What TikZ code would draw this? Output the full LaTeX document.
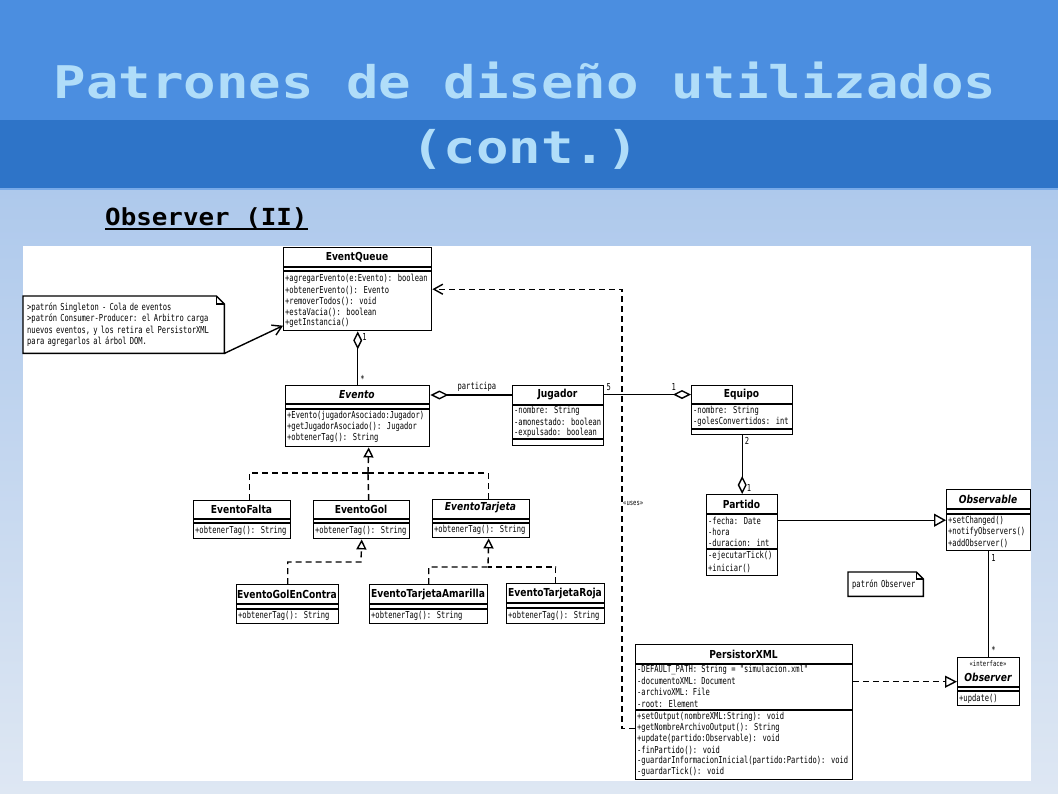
\documentclass[tikz,border=0pt]{standalone}
\usepackage{fontspec}
\usetikzlibrary{arrows.meta}

\newfontfamily\titlefont[FakeStretch=1.2]{DejaVu Sans Mono}
\newfontfamily\subfont[FakeStretch=1.1]{DejaVu Sans Mono}
\newfontfamily\memfont[FakeStretch=0.74]{DejaVu Sans Mono}
\newfontfamily\clsfont[FakeStretch=0.83]{DejaVu Sans}
\newcommand\memtext{\memfont\fontsize{9.6}{11.3}\selectfont}
\newcommand\clstext{\clsfont\fontsize{11}{13}\selectfont\bfseries}

\definecolor{headtop}{RGB}{75,142,224}
\definecolor{headlow}{RGB}{46,116,200}
\definecolor{headline}{RGB}{120,170,232}
\definecolor{pagetop}{RGB}{174,201,236}
\definecolor{pagebot}{RGB}{222,231,243}
\definecolor{titletext}{RGB}{176,221,249}

\tikzset{
	box/.style={draw, line width=1.4pt, fill=white, anchor=north west, inner sep=0pt},
	cname/.style={font=\clstext, inner sep=0pt},
	cabstract/.style={font=\clstext\itshape, inner sep=0pt},
	member/.style={font=\memtext, anchor=west, inner sep=0pt},
	mult/.style={font=\memtext, inner sep=0pt},
	note/.style={font=\memtext, anchor=north west, align=left, inner xsep=4pt, inner ysep=0pt},
	notebox/.style={line width=1.4pt},
	sep/.style={line width=1.4pt},
	link/.style={line width=1.4pt},
	aggr/.style={link, {Diamond[open,length=18pt,width=9pt]}-},
	dep/.style={link, dash pattern=on 6pt off 4pt},
	realiz/.style={dep, -{Triangle[open,length=10pt,width=10pt]}},
}

\begin{document}
\begin{tikzpicture}[x=1pt,y=-1pt]
	\useasboundingbox (0,0) rectangle (1058,793);

	% slide background
	\shade[top color=pagetop, bottom color=pagebot] (0,188) rectangle (1058,793);
	\fill[headtop] (0,0) rectangle (1058,120);
	\fill[headlow] (0,120) rectangle (1058,188);
	\draw[headline, line width=1.5pt] (0,189) -- (1058,189);
	\fill[white] (23,246) rectangle (1031,781);

	% title
	\node[anchor=base, text=titletext, font=\titlefont\fontsize{45}{50}\selectfont\bfseries] (title1) at (525,98) {Patrones de diseño utilizados};
	\node[anchor=base, text=titletext, font=\titlefont\fontsize{45}{50}\selectfont\bfseries] (title2) at (525,163) {(cont.)};

	\node[anchor=base west, inner sep=0pt, font=\subfont\fontsize{23.5}{26}\selectfont\bfseries] (subtitle) at (105,225) {Observer (II)};
	\draw[line width=1.8pt] ([yshift=-4pt]subtitle.base west) -- ([yshift=-4pt]subtitle.base east);

	% EventQueue
	\node[box, minimum width=148pt, minimum height=83pt] (queue) at (283,247) {};
	\node[cname] (queue-name) at (357,257) {EventQueue};
	\draw[sep] (283,267) -- (431,267);
	\draw[sep] (283,271) -- (431,271);
	\node[member] at (285,279) {+agregarEvento(e:Evento): boolean};
	\node[member] at (285,290) {+obtenerEvento(): Evento};
	\node[member] at (285,301) {+removerTodos(): void};
	\node[member] at (285,312) {+estaVacia(): boolean};
	\node[member] at (285,323) {+getInstancia()};

	% note on EventQueue
	\node[note, minimum width=201pt, minimum height=57pt, text width=193pt] (singleton) at (23,296)
		{>patrón Singleton - Cola de eventos\\
		>patrón Consumer-Producer: el Arbitro carga\\
		nuevos eventos, y los retira el PersistorXML\\
		para agregarlos al árbol DOM.};
	\draw[notebox] (singleton.north west) -- ([xshift=-8pt]singleton.north east) -- ([yshift=-8pt]singleton.north east)
		-- (singleton.south east) -- (singleton.south west) -- cycle;
	\draw[notebox] ([xshift=-8pt]singleton.north east) |- ([yshift=-8pt]singleton.north east);

	% Evento
	\node[box, minimum width=144pt, minimum height=61pt] (evento) at (285,385) {};
	\node[cabstract] (evento-name) at (357,395) {Evento};
	\draw[sep] (285,404) -- (429,404);
	\draw[sep] (285,409) -- (429,409);
	\node[member] at (287,416) {+Evento(jugadorAsociado:Jugador)};
	\node[member] at (287,427) {+getJugadorAsociado(): Jugador};
	\node[member] at (287,438) {+obtenerTag(): String};

	% Jugador
	\node[box, minimum width=91pt, minimum height=60pt] (jugador) at (512,385) {};
	\node[cname] (jugador-name) at (557.5,395) {Jugador};
	\draw[sep] (512,405) -- (603,405);
	\node[member] at (514,411) {-nombre: String};
	\node[member] at (514,422) {-amonestado: boolean};
	\node[member] at (514,433) {-expulsado: boolean};
	\draw[sep] (512,439) -- (603,439);

	% Equipo
	\node[box, minimum width=101pt, minimum height=49pt] (equipo) at (691,385) {};
	\node[cname] (equipo-name) at (741.5,394.5) {Equipo};
	\draw[sep] (691,404) -- (792,404);
	\node[member] at (693,411) {-nombre: String};
	\node[member] at (693,422) {-golesConvertidos: int};
	\draw[sep] (691,429) -- (792,429);

	% Partido
	\node[box, minimum width=71pt, minimum height=81pt] (partido) at (706,494) {};
	\node[cname] (partido-name) at (741.5,504) {Partido};
	\draw[sep] (706,514) -- (777,514);
	\node[member] at (708,521) {-fecha: Date};
	\node[member] at (708,532) {-hora};
	\node[member] at (708,543) {-duracion: int};
	\draw[sep] (706,549) -- (777,549);
	\node[member] at (708,556) {-ejecutarTick()};
	\node[member] at (708,568) {+iniciar()};

	% Observable
	\node[box, minimum width=84pt, minimum height=61pt] (observable) at (946,489) {};
	\node[cabstract] (observable-name) at (988,499) {Observable};
	\draw[sep] (946,509) -- (1030,509);
	\draw[sep] (946,514) -- (1030,514);
	\node[member] at (948,521) {+setChanged()};
	\node[member] at (948,532) {+notifyObservers()};
	\node[member] at (948,543) {+addObserver()};

	% Observer
	\node[box, minimum width=62pt, minimum height=48pt] (observer) at (957,657) {};
	\node[mult, font=\memfont\fontsize{7.5}{8}\selectfont] (observer-st) at (988,664) {«interface»};
	\node[cabstract] (observer-name) at (988,677) {Observer};
	\draw[sep] (957,687) -- (1019,687);
	\draw[sep] (957,691) -- (1019,691);
	\node[member] at (959,699) {+update()};

	% note on Observer
	\node[note, minimum width=75pt, minimum height=24pt, text width=67pt] (obsnote) at (848,572) {patrón Observer};
	\draw[notebox] (obsnote.north west) -- ([xshift=-7pt]obsnote.north east) -- ([yshift=-7pt]obsnote.north east)
		-- (obsnote.south east) -- (obsnote.south west) -- cycle;
	\draw[notebox] ([xshift=-7pt]obsnote.north east) |- ([yshift=-7pt]obsnote.north east);

	% PersistorXML
	\node[box, minimum width=217pt, minimum height=135pt] (persistor) at (635,644) {};
	\node[cname] (persistor-name) at (743.5,654) {PersistorXML};
	\draw[sep] (635,664) -- (852,664);
	\node[member] at (637,670) {-DEFAULT\_PATH: String = "simulacion.xml"};
	\node[member] at (637,681) {-documentoXML: Document};
	\node[member] at (637,692) {-archivoXML: File};
	\node[member] at (637,704) {-root: Element};
	\draw[sep] (635,710) -- (852,710);
	\node[member] at (637,717) {+setOutput(nombreXML:String): void};
	\node[member] at (637,728) {+getNombreArchivoOutput(): String};
	\node[member] at (637,739) {+update(partido:Observable): void};
	\node[member] at (637,750) {-finPartido(): void};
	\node[member] at (637,761) {-guardarInformacionInicial(partido:Partido): void};
	\node[member] at (637,772) {-guardarTick(): void};

	% subclasses of Evento
	\node[box, minimum width=97pt, minimum height=38pt] (falta) at (193,500) {};
	\node[cname] (falta-name) at (241.5,509) {EventoFalta};
	\draw[sep] (193,519) -- (290,519);
	\draw[sep] (193,523) -- (290,523);
	\node[member] at (195,531) {+obtenerTag(): String};

	\node[box, minimum width=96pt, minimum height=38pt] (gol) at (313,500) {};
	\node[cname] (gol-name) at (361,509) {EventoGol};
	\draw[sep] (313,519) -- (409,519);
	\draw[sep] (313,523) -- (409,523);
	\node[member] at (315,531) {+obtenerTag(): String};

	\node[box, minimum width=97pt, minimum height=38pt] (tarjeta) at (432,499) {};
	\node[cabstract] (tarjeta-name) at (480.5,508) {EventoTarjeta};
	\draw[sep] (432,519) -- (529,519);
	\draw[sep] (432,523) -- (529,523);
	\node[member] at (434,530) {+obtenerTag(): String};

	\node[box, minimum width=102pt, minimum height=39pt] (golencontra) at (236,584) {};
	\node[cname] (golencontra-name) at (287,594) {EventoGolEnContra};
	\draw[sep] (236,604) -- (338,604);
	\draw[sep] (236,609) -- (338,609);
	\node[member] at (238,616) {+obtenerTag(): String};

	\node[box, minimum width=118pt, minimum height=39pt] (amarilla) at (369,584) {};
	\node[cname] (amarilla-name) at (428,594) {EventoTarjetaAmarilla};
	\draw[sep] (369,604) -- (487,604);
	\draw[sep] (369,609) -- (487,609);
	\node[member] at (371,616) {+obtenerTag(): String};

	\node[box, minimum width=98pt, minimum height=40pt] (roja) at (506,583) {};
	\node[cname] (roja-name) at (555,593) {EventoTarjetaRoja};
	\draw[sep] (506,603) -- (604,603);
	\draw[sep] (506,608) -- (604,608);
	\node[member] at (508,616) {+obtenerTag(): String};

	% associations
	\draw[link, -{Straight Barb[length=9pt,width=11pt]}] (singleton.south east) -- ([yshift=-36.5pt]queue.west);
	\draw[aggr] (queue.south) -- (evento.north)
		node[mult, pos=0.1, right=4pt] {1}
		node[mult, pos=0.88, right=2pt] {*};
	\draw[aggr] (evento.east |- evento-name) -- (jugador.west |- evento-name)
		node[mult, pos=0.57, above=3pt] {participa};
	\draw[link, -{Diamond[open,length=18pt,width=9pt]}] (jugador.east |- equipo-name) -- (equipo.west |- equipo-name)
		node[mult, pos=0.05, above=3pt] {5}
		node[mult, pos=0.8, above=3pt] {1};
	\draw[link, -{Diamond[open,length=18pt,width=9pt]}] (equipo.south) -- (partido.north)
		node[mult, pos=0.1, right=2pt] {2}
		node[mult, pos=0.9, right=4pt] {1};
	\draw[link, -{Triangle[open,length=12pt,width=13pt]}] (partido.east |- observable.west) -- (observable.west);
	\draw[link] (observable.south) -- (observer.north)
		node[mult, pos=0.06, right=2pt] {1}
		node[mult, pos=0.93, right=2pt] {*};
	\draw[dep, -{Triangle[open,length=12pt,width=12pt]}] (persistor.east |- observer.west) -- (observer.west);
	\draw[dep, -{Straight Barb[length=9pt,width=10pt]}] ([yshift=-16.5pt]persistor.west) -- ++(-13,0) |- (queue.east);
	\node[mult, anchor=west, font=\memfont\fontsize{7.5}{8}\selectfont] (uses) at (623,503) {«uses»};

	% inheritance
	\coordinate (ev-fork) at (368,473);
	\draw[realiz] (ev-fork) -- ([xshift=11pt]evento.south);
	\draw[dep] ([xshift=7pt]falta.north) |- (ev-fork);
	\draw[dep] ([xshift=7pt]gol.north) -- (ev-fork);
	\draw[dep] ([xshift=7pt]tarjeta.north) |- (ev-fork);

	\coordinate (gol-fork) at (361,562);
	\draw[realiz] (golencontra.north) |- (gol-fork) -- (gol.south);

	\coordinate (tar-fork) at (488,567);
	\draw[realiz] (amarilla.north) |- (tar-fork) -- ([xshift=7.5pt]tarjeta.south);
	\draw[dep] (roja.north) |- (tar-fork);
\end{tikzpicture}
\end{document}
